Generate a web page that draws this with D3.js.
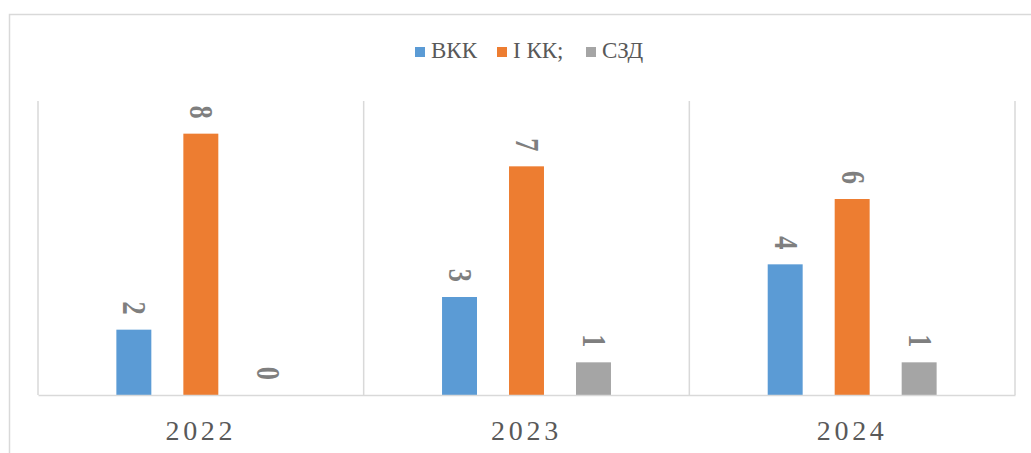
<!DOCTYPE html>
<html lang="uk">
<head>
<meta charset="UTF-8">
<title>Chart</title>
<script src="https://cdn.jsdelivr.net/npm/d3@7"></script>
<style>
  body { margin: 0; background: #fff; }
  svg { display: block; }
</style>
</head>
<body>
<script>
    var years = ['2022', '2023', '2024'];
    var seriesNames = ['ВКК', 'І КК;', 'СЗД'];
    var vkk = [2, 3, 4];
    var ikk = [8, 7, 6];
    var szd = [0, 1, 1];
    var colors = ['#5b9bd5', '#ed7d31', '#a5a5a5'];

    var rows = years.map(function (y, i) {
        return {year: y, values: [vkk[i], ikk[i], szd[i]]};
    });

    var W = 1031, H = 453;
    var plot = {left: 38, right: 1015, top: 101, bottom: 395};
    var serif = '"Liberation Serif", "Times New Roman", serif';

    var svg = d3.select('body').append('svg')
            .attr('width', W)
            .attr('height', H);

    // outer chart frame
    svg.append('rect')
            .attr('x', 9.5).attr('y', 14.5)
            .attr('width', W).attr('height', H)
            .attr('fill', 'none')
            .attr('stroke', '#d9d9d9')
            .attr('stroke-width', 1.5);

    var x = d3.scaleBand()
            .domain(years)
            .range([plot.left, plot.right])
            .padding(0);
    var xs = d3.scaleBand()
            .domain(d3.range(seriesNames.length))
            .range([0, x.bandwidth()])
            .paddingInner(0.478)
            .paddingOuter(1.17);
    var y = d3.scaleLinear()
            .domain([0, 9])
            .range([plot.bottom, plot.top]);

    // category separators
    var edges = years.map(function (d) { return x(d); }).concat([plot.right]);
    svg.selectAll('line.sep')
            .data(edges)
            .enter()
            .append('line')
            .attr('class', 'sep')
            .attr('x1', function (d) { return d; })
            .attr('x2', function (d) { return d; })
            .attr('y1', plot.top)
            .attr('y2', plot.bottom)
            .attr('stroke', '#d9d9d9')
            .attr('stroke-width', 1.5);

    // bars
    var g = svg.selectAll('g.cat')
            .data(rows)
            .enter()
            .append('g')
            .attr('class', 'cat')
            .attr('transform', function (d) { return 'translate(' + x(d.year) + ',0)'; });

    g.selectAll('rect')
            .data(function (d) { return d.values; })
            .enter()
            .append('rect')
            .attr('x', function (d, i) { return xs(i); })
            .attr('y', function (d) { return y(d); })
            .attr('width', xs.bandwidth())
            .attr('height', function (d) { return y(0) - y(d); })
            .attr('fill', function (d, i) { return colors[i]; });

    // data labels, rotated and a bit squeezed like the original
    g.selectAll('text')
            .data(function (d) { return d.values; })
            .enter()
            .append('text')
            .attr('transform', function (d, i) {
                return 'translate(' + (xs(i) + xs.bandwidth() / 2 + 1) + ',' + (y(d) - 15) + ') rotate(90) scale(0.8,1)';
            })
            .attr('text-anchor', 'end')
            .attr('dominant-baseline', 'central')
            .attr('font-family', serif)
            .attr('font-weight', 'bold')
            .attr('font-size', 33)
            .attr('fill', '#7f7f7f')
            .text(function (d) { return d; });

    // x axis baseline
    var xAxis = d3.axisBottom(x).tickSize(0).tickPadding(25);
    var ax = svg.append('g')
            .attr('transform', 'translate(0,' + plot.bottom + ')')
            .call(xAxis);
    ax.select('.domain')
            .attr('stroke', '#d9d9d9')
            .attr('stroke-width', 1.5);
    ax.selectAll('text')
            .attr('font-family', serif)
            .attr('font-size', 28)
            .attr('letter-spacing', 3.7)
            .attr('fill', '#595959');

    // legend
    var legendX = [415, 497, 586];
    var lg = svg.selectAll('g.legend')
            .data(seriesNames)
            .enter()
            .append('g')
            .attr('class', 'legend')
            .attr('transform', function (d, i) { return 'translate(' + legendX[i] + ',0)'; });
    lg.append('rect')
            .attr('x', 0).attr('y', 47)
            .attr('width', 10).attr('height', 10)
            .attr('fill', function (d, i) { return colors[i]; });
    lg.append('text')
            .attr('x', 16)
            .attr('y', 58)
            .attr('font-family', serif)
            .attr('font-size', 23)
            .attr('fill', '#595959')
            .text(function (d) { return d; });
</script>
</body>
</html>
